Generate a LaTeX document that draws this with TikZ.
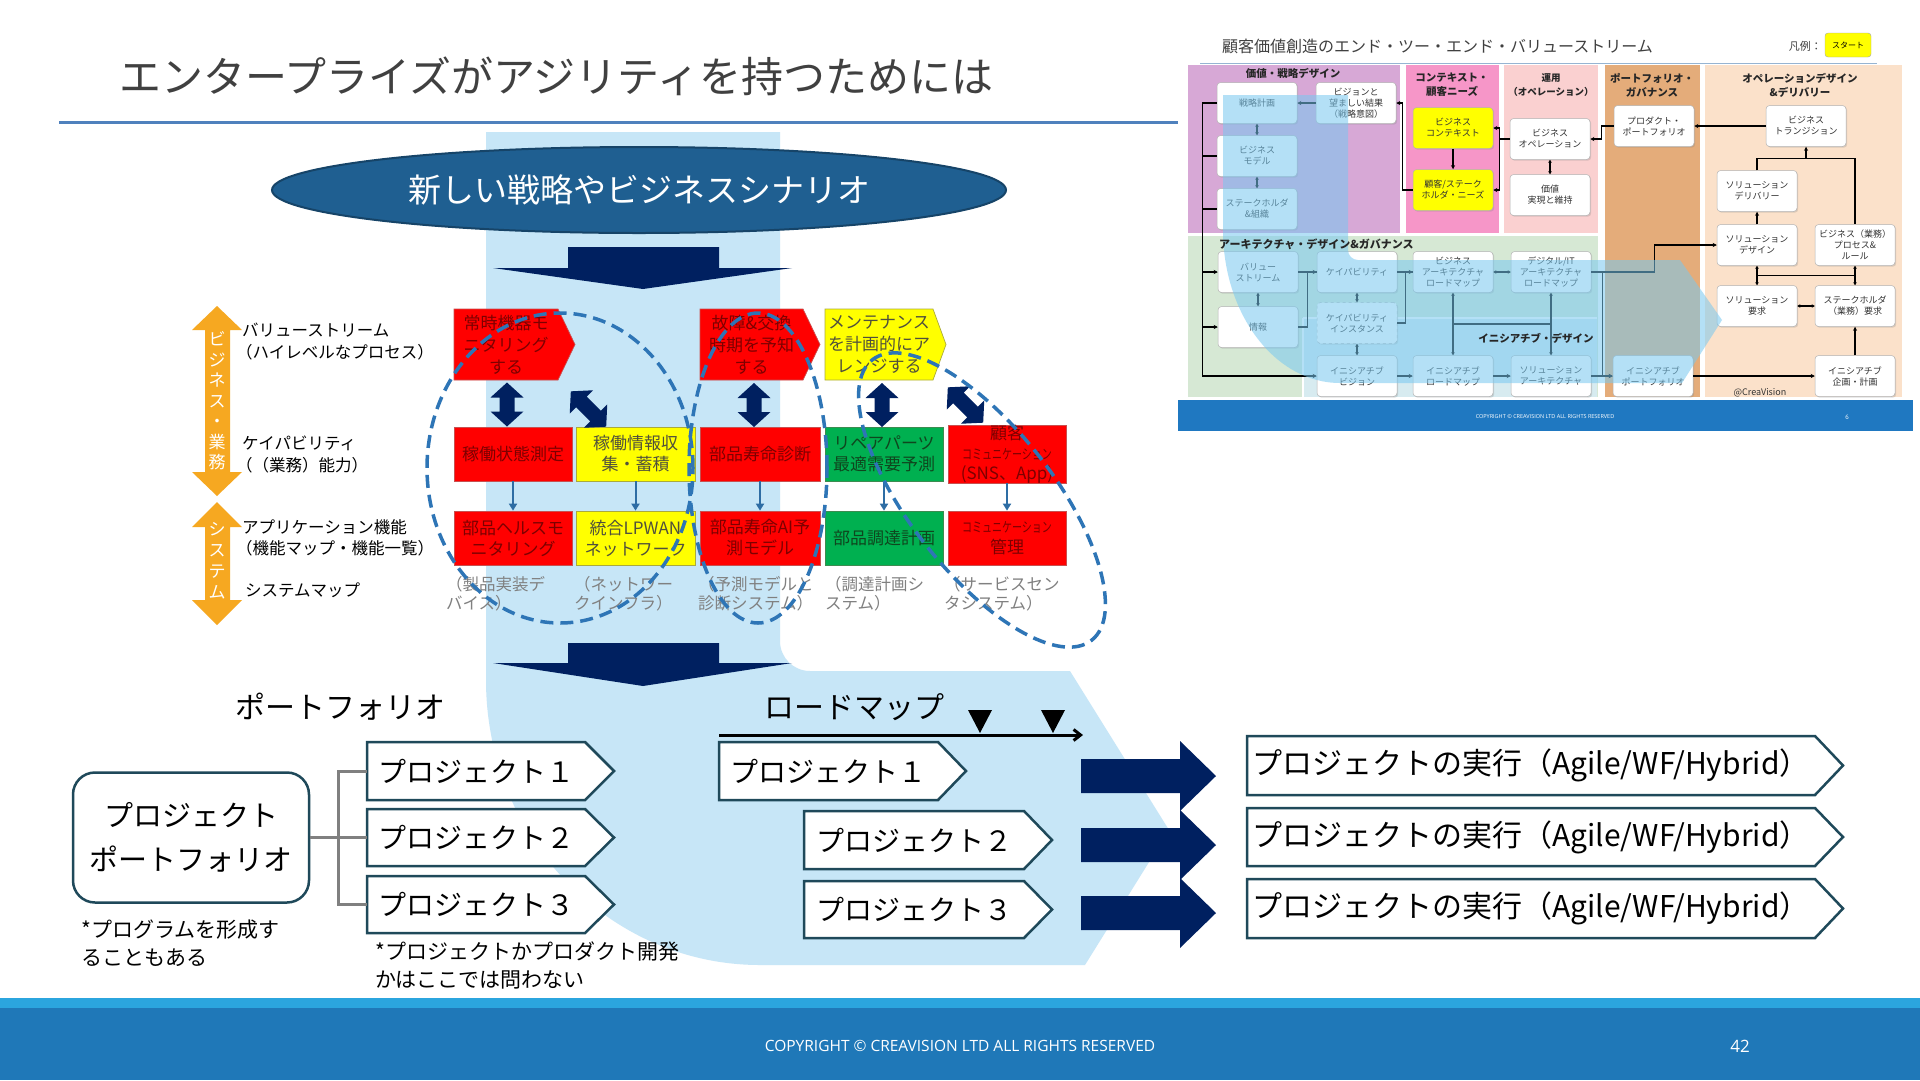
\documentclass[tikz,border=0pt]{standalone}
\usepackage{fontspec}
\setmainfont{Noto Sans CJK JP}
\newfontfamily\osans{Open Sans}
\usetikzlibrary{calc,arrows.meta,shadows,shapes.geometric}
\definecolor{lb}{RGB}{199,230,247}
\definecolor{navy}{RGB}{0,32,96}
\definecolor{ttl}{RGB}{64,64,64}
\definecolor{uline}{RGB}{79,129,189}
\definecolor{ell}{RGB}{31,95,145}
\definecolor{elld}{RGB}{22,68,104}
\definecolor{org}{RGB}{246,168,33}
\definecolor{cred}{RGB}{255,0,0}
\definecolor{cyel}{RGB}{255,255,0}
\definecolor{cgrn}{RGB}{0,176,80}
\definecolor{bred}{RGB}{200,80,80}
\definecolor{byel}{RGB}{170,170,60}
\definecolor{bgrn}{RGB}{60,140,80}
\definecolor{tred}{RGB}{125,0,0}
\definecolor{tyel}{RGB}{80,80,60}
\definecolor{tgrn}{RGB}{15,70,30}
\definecolor{thinc}{RGB}{46,109,164}
\definecolor{dashc}{RGB}{46,117,182}
\definecolor{capg}{RGB}{128,128,128}
\definecolor{cteal}{RGB}{31,73,90}
\definecolor{footm}{RGB}{31,120,184}
\definecolor{foots}{RGB}{43,165,222}
\definecolor{ipur}{RGB}{215,168,214}
\definecolor{ipink}{RGB}{246,150,200}
\definecolor{ilpink}{RGB}{250,208,208}
\definecolor{itan}{RGB}{228,172,122}
\definecolor{ipeach}{RGB}{251,225,202}
\definecolor{igrn}{RGB}{214,232,212}
\definecolor{iini}{RGB}{215,235,240}
\definecolor{ifoot}{RGB}{31,120,193}
\definecolor{itx}{RGB}{50,50,50}
\definecolor{iline}{RGB}{150,180,210}
\definecolor{ovl}{RGB}{120,200,240}
% chevron: #1 path style, #2 node style, #3 name, #4 xl, #5 yt, #6 xbody, #7 xtip, #8 yb, #9 text
\newcommand\chev[9]{%
  \path[#1] (#4,#5) -- (#6,#5) -- (#7,{(#5+#8)/2}) -- (#6,#8) -- (#4,#8) -- cycle;
  \node[#2,inner sep=0,minimum width={(#6-#4)*1pt},minimum height={(#8-#5)*1pt}] (#3) at ({(#4+#6)/2},{(#5+#8)/2}) {#9};}
% double-headed navy arrow: #1 cx, #2 cy, #3 angle, #4 half length
\newcommand\dbl[4]{\fill[navy,shift={(#1,#2)},rotate=#3] ({-#4},0) -- ({-#4+15},-16.5) -- ({-#4+15},-7.5) -- ({#4-15},-7.5) -- ({#4-15},-16.5) -- (#4,0) -- ({#4-15},16.5) -- ({#4-15},7.5) -- ({-#4+15},7.5) -- ({-#4+15},16.5) -- cycle;}
\newcommand\cmsmall{\resizebox{90pt}{11pt}{コミュニケーション}}
\begin{document}
\begin{tikzpicture}[x=1pt,y=-1pt,
  gbox/.style={rectangle,inner sep=0,minimum height=54pt,align=center,font=\fontsize{17}{21}\selectfont,line width=0.7pt},
  rbox/.style={gbox,fill=cred,draw=bred,text=tred},
  ybox/.style={gbox,fill=cyel,draw=byel,text=tyel},
  gnbox/.style={gbox,fill=cgrn,draw=bgrn,text=tgrn},
  redp/.style={fill=cred,draw=bred,line width=0.7pt},
  yelp/.style={fill=cyel,draw=byel,line width=0.7pt},
  ctxt/.style={align=center,font=\fontsize{17}{22}\selectfont},
  thinarr/.style={draw=thinc,line width=2pt,-{Triangle[length=7pt,width=8pt]}},
  dashE/.style={draw=dashc,line width=3.5pt,dash pattern=on 13pt off 7pt},
  capt/.style={anchor=north west,align=left,inner sep=0,text=capg,font=\fontsize{16.5}{19}\selectfont},
  lbl/.style={anchor=west,inner sep=0,font=\fontsize{16.5}{16.5}\selectfont},
  pchp/.style={fill=white,draw=cteal,line width=2.5pt},
  ptx/.style={font=\fontsize{28}{28}\selectfont},
  xtx/.style={font=\fontsize{30}{30}\selectfont},
  brk/.style={draw=gray,line width=3pt},
  ibox/.style={rectangle,rounded corners=3.5pt,fill=white,draw=gray!60,line width=0.5pt,minimum width=80pt,minimum height=41pt,inner sep=0,align=center,font=\fontsize{9}{11}\selectfont,text=itx,drop shadow={shadow xshift=1.2pt,shadow yshift=-1.2pt,opacity=0.25}},
  iybox/.style={ibox,fill=cyel},
  ihdr/.style={align=center,inner sep=0,text=black!85,font=\bfseries\fontsize{10.5}{14}\selectfont},
  iconn/.style={line width=1.1pt,black},
  iarr/.style={iconn,-{Stealth[length=4pt,width=4pt]}},
  idbl/.style={iconn,{Stealth[length=3pt,width=3.5pt]}-{Stealth[length=3pt,width=3.5pt]}}
]
\useasboundingbox (0,0) rectangle (1920,1080);
\fill[white] (0,0) rectangle (1920,1080);

% ---------- main light blue band ----------
\fill[lb] (486,132) -- (780,132) -- (780,641) .. controls (780,657.6) and (793.4,671) .. (810,671)
  -- (1070,671) -- (1169,830) -- (1085,965) -- (760,965)
  .. controls (608.7,965) and (486,837.3) .. (486,680) -- cycle;

% ---------- title ----------
\node[anchor=west,inner sep=0,text=ttl,font=\fontsize{42}{42}\selectfont] (title) at (119,76) {エンタープライズがアジリティを持つためには};
\draw[uline,line width=3pt] (59,122) -- (1178,122);

% ---------- scenario ellipse and arrow ----------
\node[ellipse,fill=ell,draw=elld,line width=2pt,minimum width=734pt,minimum height=86pt,inner sep=0,text=white,font=\fontsize{33}{33}\selectfont] (scen) at (639,190) {新しい戦略やビジネスシナリオ};
\fill[navy] (568,247) -- (719,247) -- (719,268) -- (792,268) -- (643,289) -- (493,268) -- (568,268) -- cycle;
\fill[navy] (568,643) -- (719,643) -- (719,663) -- (792,663) -- (643,686) -- (493,663) -- (568,663) -- cycle;

% ---------- left orange arrows ----------
\fill[org] (217,306) -- (242,330) -- (230,330) -- (230,472) -- (242,472) -- (217,496) -- (192,472) -- (205,472) -- (205,330) -- (192,330) -- cycle;
\fill[org] (217,502) -- (242,527) -- (230,527) -- (230,600) -- (242,600) -- (217,625) -- (192,600) -- (205,600) -- (205,527) -- (192,527) -- cycle;
\node[align=center,inner sep=0,text=white,font=\fontsize{17}{20.5}\selectfont] (vbiz) at (217,401) {ビ\\ジ\\ネ\\ス\\・\\業\\務};
\node[align=center,inner sep=0,text=white,font=\fontsize{17}{21}\selectfont] (vsys) at (217,561) {シ\\ス\\テ\\ム};

\node[lbl] (l1) at (242,330) {バリューストリーム};
\node[lbl] (l2) at (236,352) {（ハイレベルなプロセス）};
\node[lbl] (l3) at (242,443) {ケイパビリティ};
\node[lbl] (l4) at (236,465) {（（業務）能力）};
\node[lbl] (l5) at (242,527) {アプリケーション機能};
\node[lbl] (l6) at (236,548) {（機能マップ・機能一覧）};
\node[lbl] (l7) at (245,590) {システムマップ};

% ---------- grid ----------
\chev{redp}{ctxt,text=tred}{A1}{454}{309}{558}{575}{380}{常時機器モ\\ニタリング\\する}
\chev{redp}{ctxt,text=tred}{A3}{700}{309}{803}{820}{380}{故障\&交換\\時期を予知\\する}
\chev{yelp}{ctxt,text=tyel}{A4}{825}{309}{933}{946}{380}{メンテナンス\\を計画的にア\\レンジする}

\node[rbox,minimum width=118pt] (B1) at (513,454) {稼働状態測定};
\node[ybox,minimum width=119pt] (B2) at (635.5,454) {稼働情報収\\集・蓄積};
\node[rbox,minimum width=120pt] (B3) at (760,454) {部品寿命診断};
\node[gnbox,minimum width=118pt] (B4) at (884,454) {リペアパーツ\\最適需要予測};
\node[rbox,minimum width=118pt,font=\fontsize{17}{20}\selectfont] (B5) at (1007,454) {顧客\\\cmsmall\\(SNS、App)};

\node[rbox,minimum width=118pt] (C1) at (513,538) {部品ヘルスモ\\ニタリング};
\node[ybox,minimum width=119pt] (C2) at (635.5,538) {統合LPWAN\\ネットワーク};
\node[rbox,minimum width=120pt] (C3) at (760,538) {部品寿命AI予\\測モデル};
\node[gnbox,minimum width=118pt] (C4) at (884,538) {部品調達計画};
\node[rbox,minimum width=118pt] (C5) at (1007,538) {\cmsmall\\管理};

\foreach \u/\v in {B1/C1,B2/C2,B3/C3,B4/C4,B5/C5} \draw[thinarr] (\u.south) -- (\v.north);

\dbl{507}{404.5}{90}{22}
\dbl{588.5}{409}{-45}{25}
\dbl{754}{405}{90}{22}
\dbl{882}{405}{90}{22}
\dbl{965.5}{405}{-45}{25}

\node[capt] (k1) at (446,576) {（製品実装デ\\バイス）};
\node[capt] (k2) at (574,576) {（ネットワー\\クインフラ）};
\node[capt] (k3) at (698,576) {（予測モデルと\\診断システム）};
\node[capt] (k4) at (825,576) {（調達計画シ\\ステム）};
\node[capt] (k5) at (944,576) {（サービスセン\\タシステム）};

\draw[dashE] (560,468) ellipse [x radius=133pt,y radius=155pt];
\draw[dashE] (758,468) ellipse [x radius=69pt,y radius=155pt];
\draw[dashE,rotate around={-52:(982,500)}] (982,500) ellipse [x radius=178pt,y radius=72pt];

% ---------- portfolio / roadmap ----------
\node[inner sep=0,font=\fontsize{30}{30}\selectfont] (pf) at (340,707) {ポートフォリオ};
\node[inner sep=0,font=\fontsize{30}{30}\selectfont] (rm) at (854,707) {ロードマップ};
\coordinate (tl0) at (719,735);
\coordinate (tl1) at (1083,735);
\draw[line width=3pt,-{Straight Barb[length=7pt,width=11pt]}] (tl0) -- (tl1);
\fill (968,710) -- (992,710) -- (980,733) -- cycle;
\fill (1041,710) -- (1065,710) -- (1053,733) -- cycle;

\node[draw=cteal,line width=2.5pt,rounded corners=22pt,minimum width=236pt,minimum height=130pt,inner sep=0,align=center,font=\fontsize{29}{44}\selectfont] (ppf) at (191,837.5) {プロジェクト\\ポートフォリオ};

\chev{pchp}{ptx}{P1}{367}{742}{585}{614}{800}{プロジェクト１}
\chev{pchp}{ptx}{P2}{367}{809}{585}{614}{866}{プロジェクト２}
\chev{pchp}{ptx}{P3}{367}{876}{585}{614}{933}{プロジェクト３}
\draw[brk] (ppf.east) -- ++(28,0) |- (P1.west);
\draw[brk] (ppf.east) -- ++(28,0) |- (P3.west);
\draw[brk] (ppf.east) -- (P2.west);

\chev{pchp}{ptx}{Q1}{719}{742}{938}{966}{800}{プロジェクト１}
\chev{pchp}{ptx}{Q2}{804}{811}{1024}{1052}{869}{プロジェクト２}
\chev{pchp}{ptx}{Q3}{804}{881}{1024}{1052}{938}{プロジェクト３}

\fill[navy] (1081,759) -- (1180,759) -- (1180,741) -- (1216,776) -- (1180,811) -- (1180,793) -- (1081,793) -- cycle;
\fill[navy] (1081,828) -- (1180,828) -- (1180,810) -- (1216,845) -- (1180,880) -- (1180,862) -- (1081,862) -- cycle;
\fill[navy] (1081,896) -- (1180,896) -- (1180,878) -- (1216,913) -- (1180,948) -- (1180,930) -- (1081,930) -- cycle;

\chev{pchp}{xtx}{X1}{1247}{736}{1815}{1843}{795}{プロジェクトの実行（Agile/WF/Hybrid）}
\chev{pchp}{xtx}{X2}{1247}{808}{1815}{1843}{866}{プロジェクトの実行（Agile/WF/Hybrid）}
\chev{pchp}{xtx}{X3}{1247}{879}{1815}{1843}{938}{プロジェクトの実行（Agile/WF/Hybrid）}

\node[anchor=north west,align=left,inner sep=0,font=\fontsize{21}{28}\selectfont] (fn1) at (81,920) {*プログラムを形成す\\ることもある};
\node[anchor=north west,align=left,inner sep=0,font=\fontsize{21}{28}\selectfont] (fn2) at (375,942) {*プロジェクトかプロダクト開発\\かはここでは問わない};

% ---------- footer ----------
\fill[foots] (0,998) rectangle (1920,1008);
\fill[footm] (0,1008) rectangle (1920,1080);
\node[text=white,inner sep=0,font=\osans\fontsize{15.5}{15.5}\selectfont] (cr) at (960,1046) {COPYRIGHT © CREAVISION LTD ALL RIGHTS RESERVED};
\node[text=white,inner sep=0,font=\osans\fontsize{17}{17}\selectfont] (pg) at (1740,1046) {42};

% ---------- inset ----------
\fill[ipur] (1188,65) rectangle (1400,233);
\fill[ipink] (1406,65) rectangle (1499,233);
\fill[ilpink] (1504,65) rectangle (1598,233);
\fill[itan] (1605,65) rectangle (1700,397);
\fill[ipeach] (1705,65) rectangle (1902,397);
\fill[igrn] (1188,236) rectangle (1598,397);
\fill[iini] (1303,318) rectangle (1597,397);
\draw[white,line width=1.5pt] (1303,318) -- (1597,318);
\draw[white,line width=1.5pt] (1303,318) -- (1303,397);
\draw[iline,line width=1pt] (1200,63) -- (1877,63);

\node[anchor=west,inner sep=0,text=ttl,font=\fontsize{16}{16}\selectfont] (ititle) at (1222,46) {顧客価値創造のエンド・ツー・エンド・バリューストリーム};
\node[anchor=east,inner sep=0,text=ttl,font=\fontsize{11}{11}\selectfont] (lg) at (1822,46) {凡例：};
\node[fill=cyel,draw=gray!70,rounded corners=3pt,minimum width=46pt,minimum height=24pt,inner sep=0,font=\fontsize{8}{8}\selectfont] (st) at (1848,45) {スタート};

\node[ihdr] (h1) at (1293,73) {価値・戦略デザイン};
\node[ihdr] (h2) at (1452,85) {コンテキスト・\\顧客ニーズ};
\node[ihdr,font=\bfseries\fontsize{9.5}{14}\selectfont] (h3) at (1551,85) {運用\\（オペレーション）};
\node[ihdr] (h4) at (1652,85) {ポートフォリオ・\\ガバナンス};
\node[ihdr] (h5) at (1800,85) {オペレーションデザイン\\\&デリバリー};

\node[ibox] (b1) at (1257,103) {戦略計画};
\node[ibox] (b2) at (1356,103) {ビジョンと\\望ましい結果\\（戦略意図）};
\node[ibox] (b3) at (1257,156) {ビジネス\\モデル};
\node[ibox] (b4) at (1257,209) {ステークホルダ\\\&組織};
\node[iybox] (b5) at (1453,128) {ビジネス\\コンテキスト};
\node[iybox] (b6) at (1453,190) {顧客/ステーク\\ホルダ・ニーズ};
\node[ibox] (b7) at (1550,139) {ビジネス\\オペレーション};
\node[ibox] (b8) at (1550,195) {価値\\実現と維持};
\node[ibox] (b9) at (1654,126) {プロダクト・\\ポートフォリオ};
\node[ibox] (b10) at (1806,126) {ビジネス\\トランジション};
\node[ibox] (b11) at (1757,191) {ソリューション\\デリバリー};
\node[ibox] (b12) at (1757,245) {ソリューション\\デザイン};
\node[ibox] (b13) at (1855,245) {ビジネス（業務）\\プロセス\&\\ルール};
\node[ibox] (b14) at (1757,306) {ソリューション\\要求};
\node[ibox] (b15) at (1855,306) {ステークホルダ\\（業務）要求};
\node[ibox] (b16) at (1855,376) {イニシアチブ\\企画・計画};
\node[ibox] (b17) at (1258,272) {バリュー\\ストリーム};
\node[ibox] (b18) at (1258,327) {情報};
\node[ibox] (b19) at (1357,272) {ケイパビリティ};
\node[ibox,dashed] (b20) at (1357,323) {ケイパビリティ\\インスタンス};
\node[ibox] (b21) at (1357,376) {イニシアチブ\\ビジョン};
\node[ibox] (b22) at (1453,272) {ビジネス\\アーキテクチャ\\ロードマップ};
\node[ibox] (b23) at (1453,376) {イニシアチブ\\ロードマップ};
\node[ibox] (b24) at (1551,272) {デジタル/IT\\アーキテクチャ\\ロードマップ};
\node[ibox] (b25) at (1551,376) {ソリューション\\アーキテクチャ};
\node[ibox] (b26) at (1653,376) {イニシアチブ\\ポートフォリオ};

% inset connectors
\draw[iarr] (b1.west) -- ++(-14,0) |- (b21.west);
\draw[iconn] (b3.west) -- ++(-14,0);
\draw[iconn] (b4.west) -- ++(-14,0);
\draw[iarr] ($(b17.west)+(-15,0)$) -- (b17.west);
\draw[iarr] ($(b18.west)+(-15,0)$) -- (b18.west);
\draw[iarr] (b2.west) -- (b1.east);
\draw[iarr] (b6.west) -- ++(-10,0) |- (b2.east);
\draw[iarr] (b5.south) -- (b6.north);
\draw[iarr] (b7.west) -- ++(-10,0) |- (b5.east);
\draw[iarr] (b7.west) -- ++(-10,0) |- (b6.east);
\draw[idbl] (b7.south) -- (b8.north);
\draw[idbl] (b1.south) -- (b3.north);
\draw[idbl] (b3.south) -- (b4.north);
\draw[iarr] (b9.west) -- ++(-12,0) |- (b7.east);
\draw[iarr] (b10.west) -- (b9.east);
\draw[iconn] (b11.north) -- ++(0,-12) -| (b13.north);
\draw[iarr] ($(b10.south)+(0,11)$) -- (b10.south);
\draw[iarr] (b12.north) -- (b11.south);
\draw[idbl] (b12.south) -- (b14.north);
\draw[idbl] (b13.south) -- (b15.north);
\draw[iconn] ($(b12.south)!0.5!(b14.north)$) -- ($(b13.south)!0.5!(b15.north)$);
\draw[idbl] (b14.east) -- (b15.west);
\draw[iarr] (b16.north) -- (b15.south);
\draw[iarr] (b26.east) -- (b16.west);
\draw[iarr] (b24.east) -- ++(63,0) |- (b12.west);
\draw[iarr] (b24.east) -- ++(11,0) |- (b26.west);
\draw[iarr] (b25.east) -- (b26.west);
\draw[iarr] (b17.east) -- (b19.west);
\draw[iconn] (b18.east) -- ++(9,0) |- (b19.west);
\draw[iarr] (b19.east) -- (b22.west);
\draw[iconn] (b20.east) -- ++(8,0) |- (b22.west);
\draw[idbl] (b22.east) -- (b24.west);
\draw[idbl] (b19.south) -- (b20.north);
\draw[idbl] (b20.south) -- (b21.north);
\draw[idbl] (b17.south) -- (b18.north);
\draw[iarr] (b21.east) -- (b23.west);
\draw[iarr] (b23.east) -- (b25.west);
\draw[idbl] (b22.south) -- (b23.north);
\draw[idbl] (b24.south) -- (b25.north);
\draw[iconn] ($(b22.south)!0.5!(b23.north)$) -- ($(b24.south)!0.5!(b25.north)$);

% inset overlay
\fill[ovl,fill opacity=0.55] (1223,95) -- (1348,95) -- (1348,250) .. controls (1348,255.5) and (1352.5,260) .. (1358,260)
  -- (1680,260) -- (1722,320) -- (1682,383) -- (1340,383)
  .. controls (1275.4,383) and (1223,314.5) .. (1223,230) -- cycle;

\node[ihdr,anchor=west,font=\bfseries\fontsize{11}{11}\selectfont] (h6) at (1219,244) {アーキテクチャ・デザイン\&ガバナンス};
\node[ihdr] (h7) at (1536,338) {イニシアチブ・デザイン};
\node[inner sep=0,text=black!80,font=\fontsize{9}{9}\selectfont] (cv) at (1760,393) {@CreaVision};

\fill[ifoot] (1178,400) rectangle (1913,431);
\node[text=white,inner sep=0,font=\osans\fontsize{5.5}{5.5}\selectfont] (icr) at (1545,417) {COPYRIGHT © CREAVISION LTD ALL RIGHTS RESERVED};
\node[text=white,inner sep=0,font=\osans\fontsize{6}{6}\selectfont] (ipg) at (1847,417) {6};
\end{tikzpicture}
\end{document}
